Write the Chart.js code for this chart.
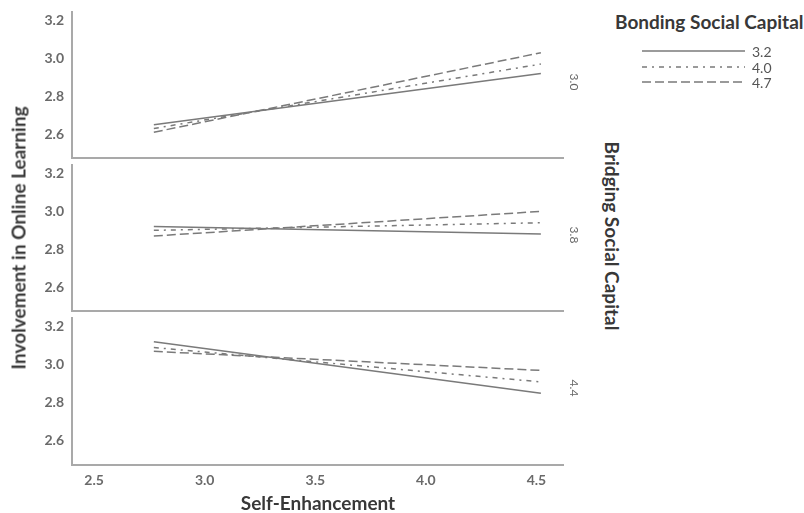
<!DOCTYPE html>
<html>
<head>
<meta charset="utf-8">
<script src="https://cdn.jsdelivr.net/npm/chart.js@4.4.0/dist/chart.umd.min.js"></script>
<style>
  body { margin: 0; background: #fff; }
  #wrap { position: relative; width: 804px; height: 513px; overflow: hidden; font-family: Lato, "Open Sans", sans-serif; }
  canvas.panel { position: absolute; left: 0; }
  .lbl { position: absolute; white-space: nowrap; }
  .bold { font-weight: bold; color: #383838; font-size: 19px; }
  .side { font-size: 12px; color: #666; }
  .leg { font-size: 14px; color: #555; }
</style>
</head>
<body>
<div id="wrap">
  <canvas id="p1" class="panel" width="575" height="164" style="top:2px"></canvas>
  <canvas id="p2" class="panel" width="575" height="164" style="top:155px"></canvas>
  <canvas id="p3" class="panel" width="575" height="205" style="top:308px"></canvas>

  <div class="lbl bold" style="left:18px;top:238px;transform:translate(-50%,-50%) rotate(-90deg)">Involvement in Online Learning</div>
  <div class="lbl bold" style="left:318px;top:502px;transform:translate(-50%,-50%)">Self-Enhancement</div>
  <div class="lbl bold" style="left:612px;top:236px;transform:translate(-50%,-50%) rotate(90deg)">Bridging Social Capital</div>
  <div class="lbl bold" style="left:615px;top:21px;transform:translateY(-50%)">Bonding Social Capital</div>
  <div id="sideLabels"></div>
  <div id="legend"></div>
</div>

<script>
// Self-Enhancement at low / high (mean -/+ SD)
const seX = [2.77, 4.52];

// Moderator levels
const bondingLevels = ['3.2', '4.0', '4.7'];
const bridgingLevels = ['3.0', '3.8', '4.4'];

// Predicted involvement [low SE, high SE] per bonding level, one array per bridging panel
const bridging30 = [[2.65, 2.92], [2.63, 2.97], [2.61, 3.03]];
const bridging38 = [[2.92, 2.88], [2.90, 2.94], [2.87, 3.00]];
const bridging44 = [[3.12, 2.85], [3.09, 2.91], [3.07, 2.97]];

// Axis ticks
const xTicks = [2.5, 3.0, 3.5, 4.0, 4.5];
const yTicks = [2.6, 2.8, 3.0, 3.2];

// line styles for the bonding levels
const lineColor = '#7a7a7a';
const dashes = [[], [5, 5, 2, 5], [9, 4]];
const axisColor = '#a9a9a9';
const tickFont = { family: 'Lato, "Open Sans", sans-serif', size: 14, weight: 'bold' };
const tickColor = '#6a6a6a';

function crearPanel(id, valores, esUltimo) {
    const ctx = document.getElementById(id).getContext('2d');
    return new Chart(ctx, {
        type: 'line',
        data: {
            datasets: valores.map((v, i) => ({
                label: bondingLevels[i],
                data: seX.map((x, j) => ({ x: x, y: v[j] })),
                borderColor: lineColor,
                borderWidth: 1.5,
                borderDash: dashes[i],
                pointRadius: 0,
                fill: false,
                tension: 0
            }))
        },
        options: {
            responsive: false,
            animation: false,
            layout: { padding: { top: 10, right: 12, bottom: esUltimo ? 0 : 8, left: 0 } },
            plugins: { legend: { display: false }, tooltip: { enabled: false } },
            scales: {
                x: {
                    type: 'linear', min: 2.4, max: 4.62,
                    grid: { display: false, drawTicks: false },
                    border: { color: axisColor, width: 2 },
                    ticks: { display: esUltimo, font: tickFont, color: tickColor, padding: 7,
                             callback: v => v.toFixed(1) },
                    afterBuildTicks: s => { s.ticks = xTicks.map(v => ({ value: v })); },
                    afterFit: s => { s.height = esUltimo ? 48 : 0; s.paddingLeft = 0; s.paddingRight = 0; }
                },
                y: {
                    min: 2.474, max: 3.245,
                    grid: { display: false, drawTicks: false },
                    border: { color: axisColor, width: 2 },
                    ticks: { font: tickFont, color: tickColor, padding: 8,
                             callback: v => v.toFixed(1) },
                    afterBuildTicks: s => { s.ticks = yTicks.map(v => ({ value: v })); },
                    // la padding de los ticks no debe comerse el alto del panel
                    afterFit: s => { s.width = 72; s.paddingTop = 0; s.paddingBottom = 0; }
                }
            }
        }
    });
}

crearPanel('p1', bridging30, false);
crearPanel('p2', bridging38, false);
crearPanel('p3', bridging44, true);

// panel labels on the right side
const sideY = [82, 235, 388];
document.getElementById('sideLabels').innerHTML = bridgingLevels.map((t, i) =>
    `<div class="lbl side" style="left:574px;top:${sideY[i]}px;transform:translate(-50%,-50%) rotate(90deg)">${t}</div>`
).join('');

// legend
const legY = [51, 67, 82];
let svg = '<svg style="position:absolute;left:0;top:0" width="804" height="513">';
bondingLevels.forEach((t, i) => {
    svg += `<line x1="642" x2="745" y1="${legY[i]}" y2="${legY[i]}" stroke="${lineColor}" stroke-width="1.5" stroke-dasharray="${dashes[i].join(',') || 'none'}"/>`;
});
svg += '</svg>';
document.getElementById('legend').innerHTML = svg + bondingLevels.map((t, i) =>
    `<div class="lbl leg" style="left:752px;top:${legY[i]}px;transform:translateY(-50%)">${t}</div>`
).join('');
</script>
</body>
</html>
